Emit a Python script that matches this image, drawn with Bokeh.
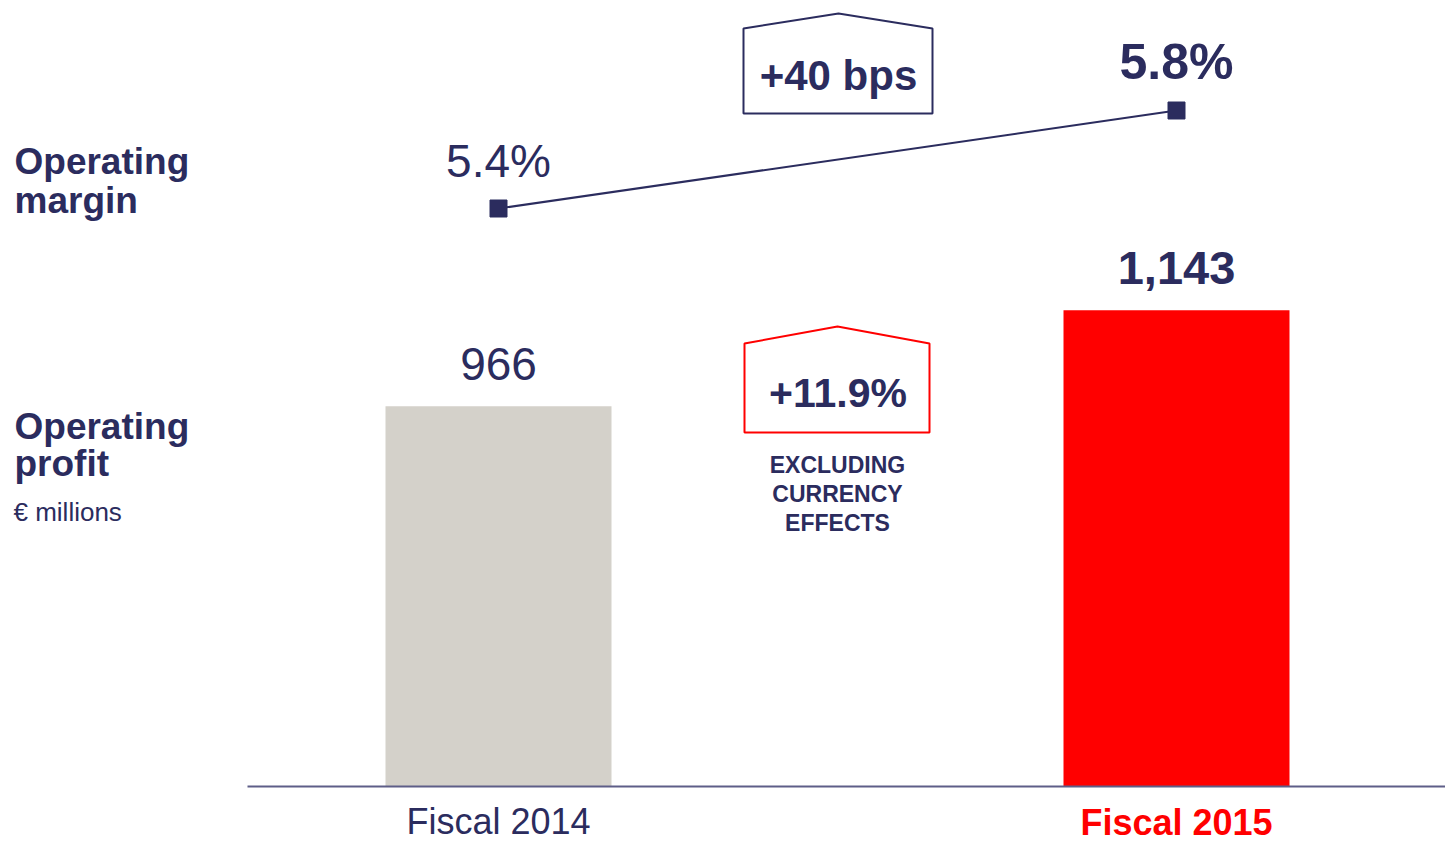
from bokeh.plotting import figure
from bokeh.models import Range1d, Label, PolyAnnotation
from bokeh.core.properties import value
from bokeh.embed import file_html
from bokeh.resources import INLINE

# ---------------- data ----------------
categories = ["Fiscal 2014", "Fiscal 2015"]
operating_profit = [966, 1143]          # € millions
operating_margin = [5.4, 5.8]           # %
profit_labels = ["966", "1,143"]
margin_labels = ["5.4%", "5.8%"]
growth_label = "+11.9%"
growth_note = ["EXCLUDING", "CURRENCY", "EFFECTS"]
margin_change_label = "+%d bps" % round((operating_margin[1] - operating_margin[0]) * 100)

# ---------------- style ----------------
NAVY = "#2B2C5E"
GRAY = "#D4D1CA"
RED = "#FF0000"
AXIS = "#5E5E88"
FONT_NAME = "Liberation Sans"
FONT = value(FONT_NAME)

W, H = 1445, 842
# layout mapping (page pixels -> data)
CAT_PX0, CAT_STEP = 498, 678      # centre of first category, spacing
BASE = 265                        # value at the bar base line
BASE_PX = 786
K = 96 / 177                      # pixels per € million
M_PX0, M_K = 208, 245             # pixel of first margin point, pixels per %-point


def dx(px):
    return (px - CAT_PX0) / CAT_STEP


def dy(py):
    return BASE + (BASE_PX - py) / K


def dm(py):
    return operating_margin[0] + (M_PX0 - py) / M_K


p = figure(width=W, height=H, output_backend="svg", toolbar_location=None,
           x_range=Range1d(dx(0), dx(W)), y_range=Range1d(dy(H), dy(0)),
           min_border=0, min_border_left=0, min_border_right=0,
           min_border_top=0, min_border_bottom=0,
           outline_line_color=None, background_fill_color="white",
           border_fill_color="white")
p.extra_y_ranges = {"margin": Range1d(dm(H), dm(0))}
p.axis.visible = False
p.grid.visible = False

xi = list(range(len(categories)))

# bars
p.vbar(x=xi, top=operating_profit, bottom=BASE, width=1 / 3,
       fill_color=[GRAY, RED], line_color=None)
# base line
p.segment(x0=[dx(247)], x1=[dx(1445)], y0=[BASE], y1=[BASE],
          line_color=AXIS, line_width=2)

# margin line
p.line(x=xi, y=operating_margin, y_range_name="margin", line_color=NAVY, line_width=2)
p.scatter(x=xi, y=operating_margin, y_range_name="margin", marker="square",
          size=17, fill_color=NAVY, line_color=NAVY)

# value labels (positioned by the middle of the text)
p.text(x=xi, y=operating_profit, text=profit_labels, text_font=FONT,
       text_font_size=["46px", "47px"], text_font_style=["normal", "bold"],
       text_color=NAVY, text_align="center", text_baseline="middle", y_offset=-42)
p.text(x=xi, y=operating_margin, y_range_name="margin", text=margin_labels, text_font=FONT,
       text_font_size=["46px", "50px"], text_font_style=["normal", "bold"],
       text_color=NAVY, text_align="center", text_baseline="middle", y_offset=[-48, -49])

# category labels
p.text(x=xi, y=[BASE, BASE], text=categories, text_font=FONT,
       text_font_size=["36px", "36px"], text_font_style=["normal", "bold"],
       text_color=[NAVY, RED], text_align="center", text_baseline="middle",
       y_offset=[35, 36])


def label(text, px, py, size, style="bold", color=NAVY, align="left"):
    p.add_layout(Label(x=dx(px), y=dy(py), text=text, text_font=FONT_NAME,
                       text_font_size=size, text_font_style=style, text_color=color,
                       text_align=align, text_baseline="middle"))


# left row titles
label("Operating", 14, 161, "37px")
label("margin", 14, 200, "37px")
label("Operating", 14, 426, "37px")
label("profit", 14, 463, "37px")
label("€ millions", 13, 511, "26px", style="normal")

# change boxes
p.add_layout(PolyAnnotation(
    xs=[dx(743), dx(743), dx(838), dx(932), dx(932)],
    ys=[dy(113), dy(28), dy(13), dy(28), dy(113)],
    fill_color=None, fill_alpha=0, line_color=NAVY, line_alpha=1, line_width=2))
label(margin_change_label, 838, 75, "42px", align="center")

p.add_layout(PolyAnnotation(
    xs=[dx(744), dx(744), dx(837), dx(929), dx(929)],
    ys=[dy(432), dy(343), dy(326), dy(343), dy(432)],
    fill_color=None, fill_alpha=0, line_color=RED, line_alpha=1, line_width=2))
label(growth_label, 837.5, 392, "41px", align="center")
for i, t in enumerate(growth_note):
    label(t, 837, 464 + 29 * i, "23px", align="center")

open("out.html", "w").write(file_html(p, INLINE))
